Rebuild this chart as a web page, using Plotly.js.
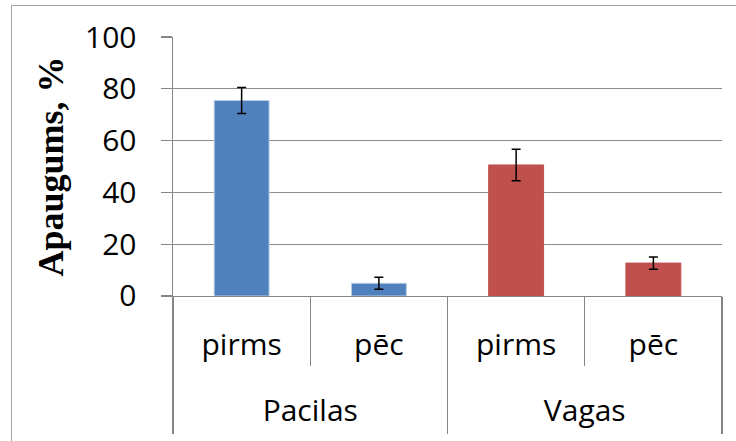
<!DOCTYPE html>
<html>
<head>
<meta charset="utf-8">
<script src="https://cdn.plot.ly/plotly-3.0.1.min.js"></script>
<style>
html,body{margin:0;padding:0;background:#fff;}
#wrap{position:relative;width:736px;height:441px;overflow:hidden;}
#frame{position:absolute;left:11px;top:5px;width:760px;height:480px;border:1px solid #a6a6a6;box-sizing:border-box;pointer-events:none;}
#chart{position:absolute;left:0;top:0;width:736px;height:441px;}
</style>
</head>
<body>
<div id="wrap"><div id="chart"></div><div id="frame"></div></div>
<script>
// Data
const groups = ["Pacilas", "Pacilas", "Vagas", "Vagas"];
const phases = ["pirms", "pēc", "pirms", "pēc"];
const values = [75.5, 4.9, 50.6, 12.7];
const errors = [5.0, 2.3, 6.1, 2.4];
const barColors = ["#4F81BD", "#4F81BD", "#C0504D", "#C0504D"];
const barEdge = ["#B9CDE5", "#B9CDE5", "#C0504D", "#C0504D"];
const yTicks = [0, 20, 40, 60, 80, 100];
const yTitle = "Apaugums, %";

// category index positions
const idx = phases.map((_, i) => i);
const groupNames = [...new Set(groups)];
const groupCenters = groupNames.map(g => {
  const ii = idx.filter(i => groups[i] === g);
  return (ii[0] + ii[ii.length - 1]) / 2;
});
const innerBounds = idx.map(i => i - 0.5).concat([idx.length - 0.5]);
const groupBounds = [-0.5].concat(groupNames.map(g => {
  const ii = idx.filter(i => groups[i] === g);
  return ii[ii.length - 1] + 0.5;
}));
const xr = [-0.5, idx.length - 0.5];

const trace = {
  type: "bar",
  x: idx,
  y: values,
  width: 0.4,
  marker: {color: barColors, line: {color: barEdge, width: 1}},
  error_y: {type: "data", array: errors, visible: true, color: "#000000", thickness: 1.5, width: 4.5},
  hoverinfo: "none"
};
const dummy = {type: "scatter", x: groupCenters, y: [0, 0], xaxis: "x2", mode: "none", hoverinfo: "none", showlegend: false};

const gray = "#868686";
const layout = {
  width: 736, height: 441,
  margin: {l: 173, r: 14, t: 37, b: 8},
  paper_bgcolor: "rgba(0,0,0,0)",
  plot_bgcolor: "rgba(0,0,0,0)",
  showlegend: false,
  font: {family: "Open Sans", color: "#000000"},
  xaxis: {
    range: xr, anchor: "y",
    tickmode: "array", tickvals: idx, ticktext: phases,
    ticks: "", ticklabelstandoff: 22,
    showline: true, linecolor: gray, linewidth: 1.5,
    minor: {tickmode: "array", tickvals: innerBounds, ticks: "outside", ticklen: 69, tickcolor: gray, tickwidth: 1.2, showgrid: false},
    tickfont: {family: "Open Sans", size: 30, color: "#000000"},
    showgrid: false, zeroline: false
  },
  xaxis2: {
    range: xr, anchor: "y", overlaying: "x", side: "bottom",
    tickmode: "array", tickvals: groupCenters, ticktext: groupNames,
    ticks: "", ticklabelstandoff: 94,
    showline: false,
    minor: {tickmode: "array", tickvals: groupBounds, ticks: "outside", ticklen: 137, tickcolor: gray, tickwidth: 1.2, showgrid: false},
    tickfont: {family: "Open Sans", size: 30, color: "#000000"},
    showgrid: false, zeroline: false
  },
  yaxis: {
    domain: [0.346, 1],
    range: [0, 100],
    tickmode: "array", tickvals: yTicks, ticktext: yTicks.map(String),
    showline: true, linecolor: gray, linewidth: 1.5,
    ticks: "outside", ticklen: 11, tickcolor: gray, tickwidth: 1.2,
    ticklabelstandoff: 18,
    showgrid: true, gridcolor: "#8c8c8c", gridwidth: 1.2,
    zeroline: false,
    tickfont: {family: "Open Sans", size: 30, color: "#000000"},
    title: {text: yTitle, font: {family: "Liberation Serif", size: 36, color: "#000000", weight: "bold"}, standoff: 10}
  }
};

Plotly.newPlot("chart", [trace, dummy], layout, {displayModeBar: false, staticPlot: true});
</script>
</body>
</html>
